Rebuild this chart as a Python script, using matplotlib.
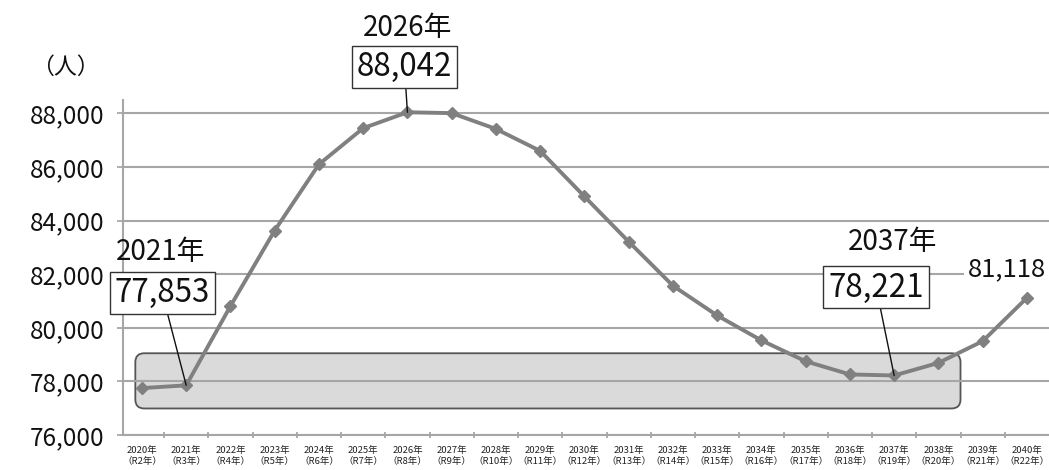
import matplotlib
matplotlib.use("Agg")
import matplotlib.pyplot as plt
from matplotlib.patches import FancyBboxPatch
import numpy as np

plt.rcParams['font.family'] = ['Noto Sans CJK JP', 'DejaVu Sans']

years = [2020, 2021, 2022, 2023, 2024, 2025, 2026, 2027, 2028, 2029, 2030,
         2031, 2032, 2033, 2034, 2035, 2036, 2037, 2038, 2039, 2040]
reiwa = [2, 3, 4, 5, 6, 7, 8, 9, 10, 11, 12, 13, 14, 15, 16, 17, 18, 19, 20, 21, 22]
population = [77750, 77853, 80810, 83630, 86100, 87450, 88042, 88010, 87420, 86600,
              84900, 83215, 81570, 80460, 79530, 78750, 78260, 78221, 78690, 79500, 81118]
tick_labels = [f"{y}年\n（R{r}年）" for y, r in zip(years, reiwa)]

# highlighted band (category index range, value range)
band_x = (-0.15, 18.5)
band_y = (76990, 79050)

W, H = 1049, 470
fig = plt.figure(figsize=(W / 100, H / 100), dpi=100)
ax = fig.add_axes([122.5 / W, 1 - 435 / H, (W - 122.5) / W, (435 - 100) / H])

x = np.arange(len(years))
ax.set_xlim(-0.44, 20.5)
ax.set_ylim(76000, 88500)
ax.set_yticks(np.arange(76000, 88001, 2000))
ax.set_yticklabels([f"{v:,}" for v in np.arange(76000, 88001, 2000)], fontsize=17.5, color='#111111')
ax.set_xticks(x)
ax.set_xticklabels(tick_labels, fontsize=6.8, color='#222222', linespacing=1.2)
ax.tick_params(axis='x', which='major', length=0, pad=8)
ax.set_xticks(np.arange(0.5, 20, 1), minor=True)
ax.tick_params(axis='x', which='minor', length=4, color='#a0a0a0', width=1.2, direction='inout')
ax.tick_params(axis='y', length=4, color='#a0a0a0', width=1.2, pad=9)

ax.grid(axis='y', color='#a6a6a6', linewidth=1.5)
ax.set_axisbelow(True)
for s in ['top', 'right']:
    ax.spines[s].set_visible(False)
for s in ['left', 'bottom']:
    ax.spines[s].set_color('#a6a6a6')
    ax.spines[s].set_linewidth(1.5)

# rounded highlight band
px_per_x = (W - 122.5) / (20.5 + 0.44)
px_per_y = (435 - 100) / (88500 - 76000)
band = FancyBboxPatch((band_x[0], band_y[0]), band_x[1] - band_x[0], band_y[1] - band_y[0],
                      boxstyle="round,pad=0,rounding_size=0.2",
                      mutation_aspect=px_per_x / px_per_y,
                      facecolor='#dadada', edgecolor='#555555', linewidth=1.3, zorder=0.4)
ax.add_patch(band)

ax.plot(x, population, color='#808080', linewidth=2.8, marker='D', markersize=6,
        markerfacecolor='#808080', markeredgecolor='#808080', zorder=3)

box = dict(boxstyle='square,pad=0.16', facecolor='white', edgecolor='#333333', linewidth=1)
arrow = dict(arrowstyle='-', color='#111111', linewidth=1, shrinkA=0, shrinkB=0)

annots = [
    (1, (-24, 92), (-26, 133)),
    (6, (-3, 45), (0, 84)),
    (17, (-18, 88), (-2, 133)),
]
for idx, box_off, year_off in annots:
    ax.annotate(f"{population[idx]:,}", xy=(idx, population[idx]), xytext=box_off,
                textcoords='offset pixels', ha='center', va='center', fontsize=22.5,
                color='#111111', bbox=box, arrowprops=arrow, zorder=5)
    ax.annotate(f"{years[idx]}年", xy=(idx, population[idx]), xytext=year_off,
                textcoords='offset pixels', ha='center', va='center', fontsize=20,
                color='#111111', zorder=5)

last = len(years) - 1
ax.annotate(f"{population[last]:,}", xy=(last, population[last]), xytext=(-20, 29),
            textcoords='offset pixels', ha='center', va='center', fontsize=18.5,
            color='#111111', zorder=5,
            bbox=dict(boxstyle='square,pad=0.15', facecolor='white', edgecolor='none'))

fig.text(65 / W, 1 - 67 / H, "（人）", ha='center', va='center', fontsize=16.5, color='#111111')

fig.savefig("out.png", dpi=100)
